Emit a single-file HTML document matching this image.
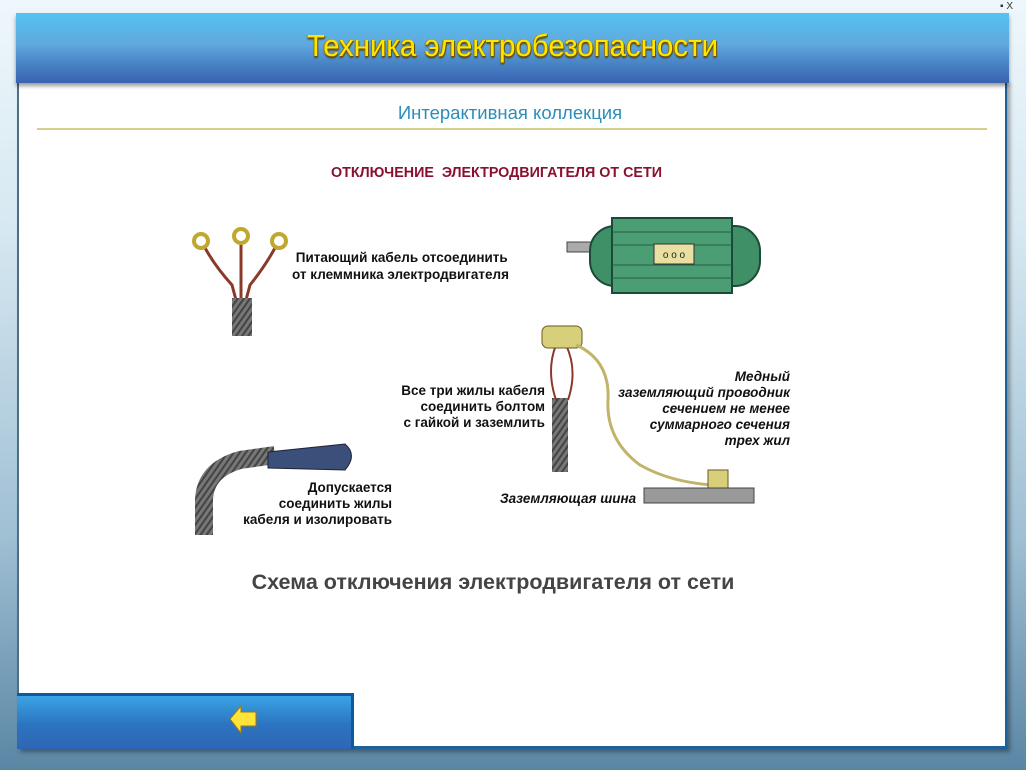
<!DOCTYPE html>
<html><head><meta charset="utf-8"><style>
body{margin:0;width:1026px;height:770px;overflow:hidden;font-family:"Liberation Sans","DejaVu Sans",sans-serif;
background:linear-gradient(#eef7fb 0%,#d6e8f1 30%,#9fbfd3 70%,#5a86a4 100%);position:relative}
.abs{position:absolute}
#panel{left:17px;top:80px;width:986px;height:666px;background:#fff;border-right:2px solid #1f5f9a;border-bottom:3px solid #1f5f9a;border-left:2px solid #4d6f8a;box-shadow:3px 3px 4px rgba(0,0,0,.35)}
#hdr{left:16px;top:13px;width:993px;height:70px;background:linear-gradient(#55c3f0 0%,#60a8dd 45%,#4a86c8 70%,#3a62b0 100%);box-shadow:0 3px 4px rgba(0,0,0,.4);text-align:center}
#hdr span{display:block;line-height:66px;font-size:31px;color:#ffe600;text-shadow:1px 1px 0 #6a5000,-1px 0 0 #9a7a00,0 2px 2px #503c00;transform:scaleX(0.95)}
#btn{left:17px;top:693px;width:334px;height:53px;background:linear-gradient(#3ba4e4,#2c73c0 55%,#2f66b4);border-top:3px solid #0d5aa0;border-right:3px solid #0d5aa0}
.t{font-weight:bold;font-size:13.5px;color:#111;line-height:16px}
</style></head><body>
<div class="abs" style="left:1000px;top:1px;font-size:10px;color:#333">▪ X</div>
<div id="panel" class="abs"></div>
<div id="hdr" class="abs"><span>Техника электробезопасности</span></div>
<div class="abs" style="left:0;width:1020px;top:102px;text-align:center;font-size:18.5px;color:#2a8fb8">Интерактивная коллекция</div>
<div class="abs" style="left:37px;top:128px;width:950px;height:2px;background:#d4cf8a"></div>
<div class="abs" style="left:331px;top:165px;font-size:14.3px;font-weight:bold;color:#8a1030;white-space:nowrap">ОТКЛЮЧЕНИЕ&nbsp; ЭЛЕКТРОДВИГАТЕЛЯ ОТ СЕТИ</div>
<svg class="abs" style="left:0;top:0" width="1026" height="770">
<defs><pattern id="br" width="5" height="5" patternUnits="userSpaceOnUse" patternTransform="rotate(35)"><rect width="5" height="5" fill="#777"/><rect width="2" height="5" fill="#444"/></pattern></defs>
<g fill="none" stroke-width="3">
<path d="M204 246 Q214 265 232 285 L236 300" stroke="#8b3a2a"/><path d="M241 242 L241 300" stroke="#8b3a2a"/><path d="M276 246 Q266 265 250 285 L246 300" stroke="#8b3a2a"/></g>
<g fill="#fff" stroke="#c0a830" stroke-width="4"><circle cx="201" cy="241" r="7"/><circle cx="241" cy="236" r="7"/><circle cx="279" cy="241" r="7"/></g>
<rect x="232" y="298" width="20" height="38" fill="url(#br)"/>
<rect x="567" y="242" width="30" height="10" fill="#aaa" stroke="#444"/>
<rect x="590" y="226" width="170" height="60" rx="25" fill="#3f8f67" stroke="#1d4a38" stroke-width="2"/>
<rect x="612" y="218" width="120" height="75" fill="#4b9e74" stroke="#1d4a38" stroke-width="2"/>
<g stroke="#275e45"><line x1="612" y1="232" x2="732" y2="232"/><line x1="612" y1="245" x2="732" y2="245"/><line x1="612" y1="265" x2="732" y2="265"/><line x1="612" y1="278" x2="732" y2="278"/></g>
<rect x="654" y="244" width="40" height="20" fill="#e8dfa0" stroke="#333"/>
<text x="674" y="258" font-size="10" text-anchor="middle" fill="#222">o o o</text>
<rect x="552" y="398" width="16" height="74" fill="url(#br)"/>
<path d="M556 400 Q546 370 556 345 M568 400 Q578 370 566 345" stroke="#8b3a2a" stroke-width="2" fill="none"/>
<rect x="542" y="326" width="40" height="22" rx="6" fill="#d8cf7a" stroke="#6a5a20"/>
<path d="M576 345 Q610 360 608 400 Q606 440 640 465 Q670 482 712 485" stroke="#c2b36a" stroke-width="3" fill="none"/>
<rect x="708" y="470" width="20" height="18" fill="#d8cf7a" stroke="#6a5a20"/>
<rect x="644" y="488" width="110" height="15" fill="#999" stroke="#444"/>
<path d="M204 535 L204 500 Q205 470 240 460 L275 455" stroke="url(#br)" stroke-width="18" fill="none"/>
<path d="M268 452 L345 444 Q358 455 345 470 L268 468 Z" fill="#3a4f7a" stroke="#223"/>
</svg>
<div class="abs t" style="left:292px;top:249px;line-height:17px;white-space:nowrap">&nbsp;Питающий кабель отсоединить<br>от клеммника электродвигателя</div>
<div class="abs t" style="left:345px;top:383px;text-align:right;width:200px">Все три жилы кабеля<br>соединить болтом<br>с гайкой и заземлить</div>
<div class="abs t" style="left:560px;top:369px;text-align:right;width:230px;font-style:italic">Медный<br>заземляющий проводник<br>сечением не менее<br>суммарного сечения<br>трех жил</div>
<div class="abs t" style="left:192px;top:480px;text-align:right;width:200px">Допускается<br>соединить жилы<br>кабеля и изолировать</div>
<div class="abs t" style="left:500px;top:491px;font-style:italic;font-weight:bold;white-space:nowrap">Заземляющая шина</div>
<div class="abs" style="left:0;width:986px;top:570px;text-align:center;font-size:21.5px;font-weight:bold;color:#444">Схема отключения электродвигателя от сети</div>
<div id="btn" class="abs"></div>
<svg class="abs" style="left:228px;top:703px" width="34" height="34"><path d="M2 16 L13 3 L13 9 L28 9 L28 23 L13 23 L13 30 Z" fill="#ffe23a" stroke="#9a7a10"/></svg>
</body></html>
